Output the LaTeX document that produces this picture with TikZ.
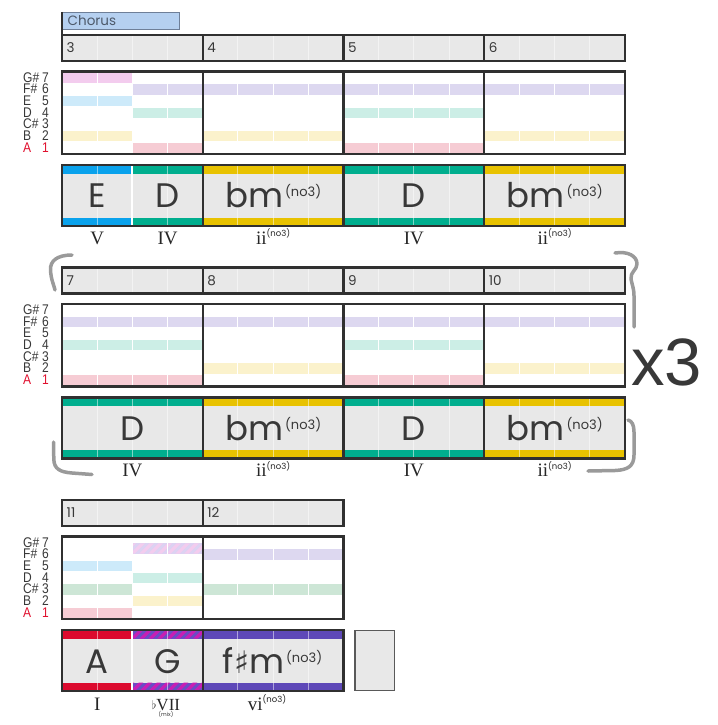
\documentclass[tikz,border=0pt]{standalone}
\usepackage{fontspec}
\setmainfont{Liberation Serif}
\newfontfamily\pop{Poppins}
\newfontfamily\lsans{Liberation Sans}
\newfontfamily\lnarrow[FakeStretch=0.86]{Liberation Sans}
\newfontfamily\dvs{DejaVu Sans}
\definecolor{hdr}{HTML}{E8E8E8}
\definecolor{frm}{HTML}{303030}
\definecolor{txt}{HTML}{383838}
\definecolor{cE}{HTML}{0AA2EC}
\definecolor{cD}{HTML}{00AE8E}
\definecolor{cBm}{HTML}{E8C200}
\definecolor{cA}{HTML}{DC0A2E}
\definecolor{cFm}{HTML}{5E48B8}
\definecolor{cGa}{HTML}{6A4CC4}
\definecolor{cGb}{HTML}{C81EB4}
\definecolor{pGs}{HTML}{F3CCEE}
\definecolor{pFs}{HTML}{DDD8F0}
\definecolor{pE}{HTML}{CDEAFA}
\definecolor{pD}{HTML}{CCEEE6}
\definecolor{pCs}{HTML}{CDE6D6}
\definecolor{pB}{HTML}{FBF2CC}
\definecolor{pA}{HTML}{F6CCD4}
\definecolor{pGl}{HTML}{DCD2F2}
\definecolor{brk}{HTML}{9A9A9A}
\definecolor{chorusfill}{HTML}{B5D0F0}
\definecolor{chorusline}{HTML}{6E7F98}
\definecolor{redlab}{HTML}{E0102E}
\newcommand\pb[5]{\fill[#5] (#1,{72.7+#3+11.65*#4}) rectangle (#2,{72.7+#3+11.65*#4+10.3});}
\newcommand\cs[4]{\fill[#4] (#1,165+#3) rectangle (#2,173.5+#3);\fill[#4] (#1,217.5+#3) rectangle (#2,226+#3);}
\newcommand\hatch[6]{\begin{scope}\clip (#1,#3) rectangle (#2,#4);
 \fill[#5] (#1,#3) rectangle (#2,#4);
 \foreach \s in {-20,-11,...,80} \fill[#6] ({#1+\s},#4) -- ({#1+\s+4.5},#4) -- ({#1+\s+4.5+#4-#3},#3) -- ({#1+\s+#4-#3},#3) -- cycle;
 \end{scope}}
\newcommand\nothree{\hspace{2pt}\raisebox{11pt}{\fontsize{13}{13}\selectfont (no3)}}
\newcommand\rnothree{\raisebox{7.5pt}{\pop\fontsize{8.5}{8.5}\selectfont (no3)}}
\tikzset{
 frame/.style={draw=frm,line width=2.1},
 ql/.style={white,opacity=0.5,line width=0.9},
 qlg/.style={white,line width=1},
 chord/.style={font=\pop\fontsize{34}{34}\selectfont,text=txt,anchor=base,inner sep=0},
 roman/.style={font=\fontsize{19}{19}\selectfont,text=black!85,anchor=base,inner sep=0},
 mnum/.style={font=\pop\fontsize{13.5}{13.5}\selectfont,text=txt,anchor=base west,inner sep=0},
 plab/.style={font=\lnarrow\fontsize{14}{14}\selectfont,text=txt,anchor=base west,inner sep=0},
 bracket/.style={draw=brk,line width=3.5,line cap=round,line join=round}
}
\begin{document}
\begin{tikzpicture}[x=1pt,y=-1pt]
\useasboundingbox (0,0) rectangle (717,725);
% backgrounds
\foreach \r/\xe in {0/625,232.5/625,465/343.5} {
  \fill[hdr] (62,35+\r) rectangle (\xe,61+\r);
  \fill[white] (62,71.5+\r) rectangle (\xe,154+\r);
  \fill[hdr] (62,165+\r) rectangle (\xe,226+\r);
}
% pitch bands row 1
\pb{62}{132.375}{0}{0}{pGs}\pb{62}{132.375}{0}{2}{pE}\pb{62}{132.375}{0}{5}{pB}
\pb{132.375}{202.75}{0}{1}{pFs}\pb{132.375}{202.75}{0}{3}{pD}\pb{132.375}{202.75}{0}{6}{pA}
\pb{202.75}{343.5}{0}{1}{pFs}\pb{202.75}{343.5}{0}{5}{pB}
\pb{343.5}{484.25}{0}{1}{pFs}\pb{343.5}{484.25}{0}{3}{pD}\pb{343.5}{484.25}{0}{6}{pA}
\pb{484.25}{625}{0}{1}{pFs}\pb{484.25}{625}{0}{5}{pB}
% row 2
\pb{62}{202.75}{232.5}{1}{pFs}\pb{62}{202.75}{232.5}{3}{pD}\pb{62}{202.75}{232.5}{6}{pA}
\pb{202.75}{343.5}{232.5}{1}{pFs}\pb{202.75}{343.5}{232.5}{5}{pB}
\pb{343.5}{484.25}{232.5}{1}{pFs}\pb{343.5}{484.25}{232.5}{3}{pD}\pb{343.5}{484.25}{232.5}{6}{pA}
\pb{484.25}{625}{232.5}{1}{pFs}\pb{484.25}{625}{232.5}{5}{pB}
% row 3
\pb{62}{132.375}{465}{2}{pE}\pb{62}{132.375}{465}{4}{pCs}\pb{62}{132.375}{465}{6}{pA}
\hatch{132.375}{202.75}{543.3}{553.6}{pGl}{pGs}
\pb{132.375}{202.75}{465}{3}{pD}\pb{132.375}{202.75}{465}{5}{pB}
\pb{202.75}{343.5}{465}{1}{pFs}\pb{202.75}{343.5}{465}{4}{pCs}
% chord strips
\cs{62}{132.375}{0}{cE}\cs{132.375}{202.75}{0}{cD}\cs{202.75}{343.5}{0}{cBm}\cs{343.5}{484.25}{0}{cD}\cs{484.25}{625}{0}{cBm}
\cs{62}{202.75}{232.5}{cD}\cs{202.75}{343.5}{232.5}{cBm}\cs{343.5}{484.25}{232.5}{cD}\cs{484.25}{625}{232.5}{cBm}
\cs{62}{132.375}{465}{cA}\cs{202.75}{343.5}{465}{cFm}
\hatch{132.375}{202.75}{630}{638.5}{cGa}{cGb}
\hatch{132.375}{202.75}{682.5}{691}{cGa}{cGb}
% quarter lines
\foreach \r/\n in {0/15,232.5/15,465/7} {
  \foreach \k in {1,...,\n} {
    \draw[ql] ({62+35.1875*\k},35+\r) -- ({62+35.1875*\k},61+\r);
    \draw[qlg] ({62+35.1875*\k},71.5+\r) -- ({62+35.1875*\k},154+\r);
    \draw[ql] ({62+35.1875*\k},165+\r) -- ({62+35.1875*\k},226+\r);
  }
}
\draw[white,line width=1.8] (132.375,165) -- (132.375,226);
\draw[white,line width=1.8] (132.375,630) -- (132.375,691);
% frames
\foreach \r/\xe in {0/625,232.5/625,465/343.5} {
  \draw[frame] (62,35+\r) rectangle (\xe,61+\r);
  \draw[frame] (62,71.5+\r) rectangle (\xe,154+\r);
  \draw[frame] (62,165+\r) rectangle (\xe,226+\r);
}
\foreach \r/\dl in {0/{202.75,343.5,484.25},232.5/{202.75,343.5,484.25},465/{202.75}} {
  \foreach \d in \dl {
    \draw[frame] (\d,35+\r) -- (\d,61+\r);
    \draw[frame] (\d,71.5+\r) -- (\d,154+\r);
    \draw[frame] (\d,165+\r) -- (\d,226+\r);
  }
}
% chorus label
\fill[chorusfill,draw=chorusline,line width=0.8] (62,12.5) rectangle (179,29);
\draw[frm,line width=2.1] (62,12) -- (62,35);
\node[font=\pop\fontsize{13.5}{13.5}\selectfont,text=chorusline!70!black,anchor=base west,inner sep=0] (chorus) at (67.5,26) {Chorus};
% measure numbers
\node[mnum] (n3) at (66.5,52.9) {3};
\node[mnum] (n4) at (207.2,52.9) {4};
\node[mnum] (n5) at (348,52.9) {5};
\node[mnum] (n6) at (488.7,52.9) {6};
\node[mnum] (n7) at (66.5,285.4) {7};
\node[mnum] (n8) at (207.2,285.4) {8};
\node[mnum] (n9) at (348,285.4) {9};
\node[mnum] (n10) at (488.7,285.4) {10};
\node[mnum] (n11) at (66.5,517.9) {11};
\node[mnum] (n12) at (207.2,517.9) {12};
% pitch labels
\foreach \r/\rn in {0/1,232.5/2,465/3} {
  \foreach \i/\l/\d in {0/G\#/7,1/F\#/6,2/E/5,3/D/4,4/C\#/3,5/B/2} {
    \node[plab] (pl\rn-\i) at (23,{72.5+\r+11.65*\i+9.6}) {\l};
    \node[plab] (pd\rn-\i) at (42,{72.5+\r+11.65*\i+9.6}) {\d};
  }
  \node[plab,text=redlab] (pl\rn-6) at (23,{72.5+\r+11.65*6+9.6}) {A};
  \node[plab,text=redlab] (pd\rn-6) at (42,{72.5+\r+11.65*6+9.6}) {1};
}
% chord names
\node[chord] (c3a) at (97.2,207.5) {E};
\node[chord] (c3b) at (167.6,207.5) {D};
\node[chord] (c4) at (273.1,207.5) {bm\nothree};
\node[chord] (c5) at (413.9,207.5) {D};
\node[chord] (c6) at (554.6,207.5) {bm\nothree};
\node[chord] (c7) at (132.4,440) {D};
\node[chord] (c8) at (273.1,440) {bm\nothree};
\node[chord] (c9) at (413.9,440) {D};
\node[chord] (c10) at (554.6,440) {bm\nothree};
\node[chord] (c11a) at (97.2,673) {A};
\node[chord] (c11b) at (167.6,673) {G};
\node[chord] (c12) at (272.5,673) {f{\dvs\fontsize{31}{31}\selectfont ♯}m\nothree};
% roman numerals
\node[roman] (r3a) at (97.2,244.3) {V};
\node[roman] (r3b) at (167.6,244.3) {IV};
\node[roman] (r4) at (273.1,244.3) {ii\rnothree};
\node[roman] (r5) at (413.9,244.3) {IV};
\node[roman] (r6) at (554.6,244.3) {ii\rnothree};
\node[roman] (r7) at (132.4,476.8) {IV};
\node[roman] (r8) at (273.1,476.8) {ii\rnothree};
\node[roman] (r9) at (413.9,476.8) {IV};
\node[roman] (r10) at (554.6,476.8) {ii\rnothree};
\node[roman] (r11a) at (97.2,710) {I};
\node[roman,font=\fontsize{17}{17}\selectfont] (r11b) at (166,710) {\raisebox{0.5pt}{\fontsize{12}{12}\selectfont$\flat$}VII};
\node[font=\pop\fontsize{5.5}{5.5}\selectfont,text=txt,anchor=base,inner sep=0] (mix) at (166,716) {(mix)};
\node[roman] (r12) at (267,710) {vi\rnothree};
% empty box
\draw[fill=hdr,draw=frm!80,line width=1.3] (355,630.5) rectangle (394.5,690.5);
% repeat brackets
\draw[bracket] (72,255) .. controls (57,255) and (50,261) .. (50.5,270) .. controls (51,280) and (54,285) .. (55,290);
\draw[bracket] (53.5,442) -- (53.8,459) .. controls (54,469) and (60,472) .. (72,473) -- (92,474.5);
\draw[bracket] (615,253) .. controls (628,251) and (637,256) .. (637,264) .. controls (637,270) and (630,272) .. (631,279) .. controls (632,285) and (634,288) .. (634,296) -- (634,327);
\draw[bracket] (628,420) .. controls (632,421) and (634,425) .. (634,432) -- (634,455) .. controls (634,466) and (628,470) .. (615,470.5) -- (588,471);
\node[font=\lsans\fontsize{67}{67}\selectfont,text=txt,anchor=base west,inner sep=0] (x3) at (631,385) {x3};
\end{tikzpicture}
\end{document}
